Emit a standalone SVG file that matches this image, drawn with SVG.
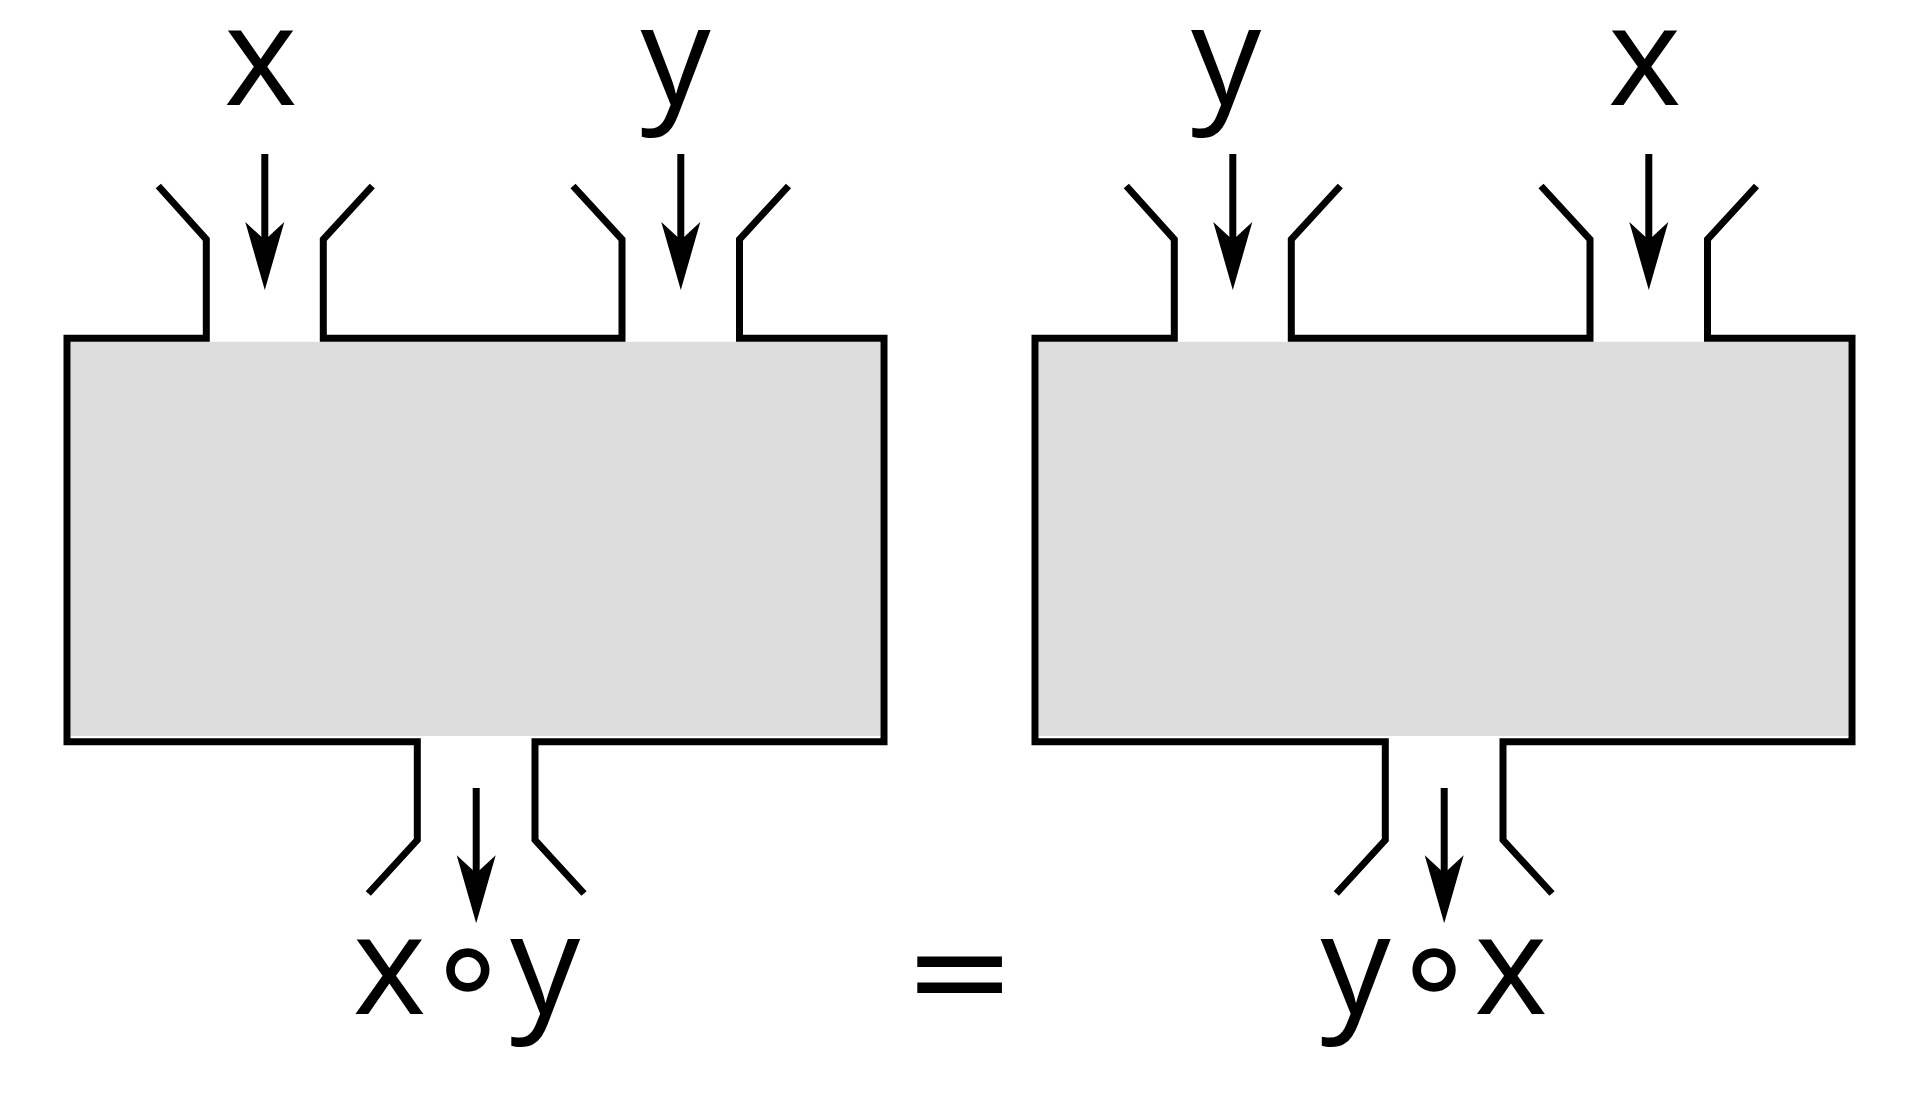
<svg xmlns="http://www.w3.org/2000/svg" width="1920" height="1098" viewBox="0 0 1920 1098">
<style>
.fill{fill:#dddddd;stroke:none}
.wall{fill:none;stroke:#000;stroke-width:7;stroke-linejoin:miter;stroke-linecap:butt}
.shaft{fill:none;stroke:#000;stroke-width:7;stroke-linecap:butt}
.lbl{font-family:"Open Sans","Noto Sans",sans-serif;font-size:140px;fill:#000;text-anchor:middle}
.ring{font-family:"DejaVu Sans",sans-serif}
.eq{stroke:#000;stroke-width:2}
</style>
<defs>
<marker id="ah" markerUnits="userSpaceOnUse" viewBox="-70 -20 72 40" refX="-50" refY="0" markerWidth="72" markerHeight="40" orient="auto">
<path d="M0,0 L-68,-19.5 L-50,0 L-68,19.5 Z" fill="#000"/>
</marker>
</defs>
<rect width="1920" height="1098" fill="#fff"/>
<g id="box-left">
<rect class="fill" x="70.5" y="341.8" width="810" height="394.2"/>
<path class="wall" d="M158.3,186 L206.3,239.3 L206.3,338.3 L67,338.3 L67,741.7 L417.3,741.7 L417.3,840 L368.3,893.5"/>
<path class="wall" d="M372.3,186 L323.3,239.3 L323.3,338.3 L622,338.3 L622,239.3 L573,186"/>
<path class="wall" d="M788.5,186 L739.5,239.3 L739.5,338.3 L884,338.3 L884,741.7 L535,741.7 L535,840 L584,893.5"/>
</g>
<g id="box-right">
<rect class="fill" x="1038.5" y="341.8" width="810" height="394.2"/>
<path class="wall" d="M1126.3,186 L1174.3,239.3 L1174.3,338.3 L1035,338.3 L1035,741.7 L1385.3,741.7 L1385.3,840 L1336.3,893.5"/>
<path class="wall" d="M1340.3,186 L1291.3,239.3 L1291.3,338.3 L1590,338.3 L1590,239.3 L1541,186"/>
<path class="wall" d="M1756.5,186 L1707.5,239.3 L1707.5,338.3 L1852,338.3 L1852,741.7 L1503,741.7 L1503,840 L1552,893.5"/>
</g>
<g id="connectors">
<line class="shaft" x1="264.8" y1="154" x2="264.8" y2="240" marker-end="url(#ah)"/>
<line class="shaft" x1="680.8" y1="154" x2="680.8" y2="240" marker-end="url(#ah)"/>
<line class="shaft" x1="476.2" y1="788" x2="476.2" y2="873.3" marker-end="url(#ah)"/>
<line class="shaft" x1="1232.8" y1="154" x2="1232.8" y2="240" marker-end="url(#ah)"/>
<line class="shaft" x1="1648.8" y1="154" x2="1648.8" y2="240" marker-end="url(#ah)"/>
<line class="shaft" x1="1444.2" y1="788" x2="1444.2" y2="873.3" marker-end="url(#ah)"/>
</g>
<g id="labels">
<text class="lbl" x="260.6" y="105.3">x</text>
<text class="lbl" x="675.6" y="105.3">y</text>
<text class="lbl" x="1226" y="105.3">y</text>
<text class="lbl" x="1644.6" y="105.3">x</text>
<text class="lbl" y="1014"><tspan x="389.4">x</tspan><tspan class="ring" x="467.7">∘</tspan><tspan x="545">y</tspan></text>
<text class="lbl" y="1014"><tspan x="1355.5">y</tspan><tspan class="ring" x="1434">∘</tspan><tspan x="1511">x</tspan></text>
<text class="lbl eq" x="0" y="0" transform="translate(959.8,1021) scale(1.28,0.93)">=</text>
</g>
</svg>
